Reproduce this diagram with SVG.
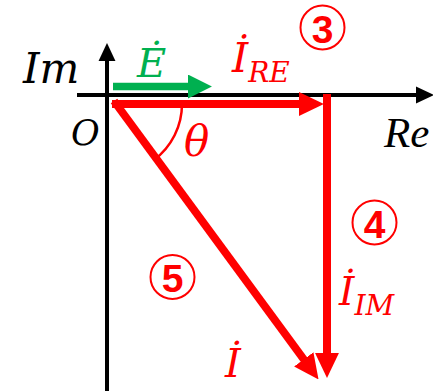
<svg xmlns="http://www.w3.org/2000/svg" width="433" height="391" viewBox="0 0 433 391">
<style>
.axis{stroke:#000;stroke-width:4;fill:none}
.red{stroke:#FF0000;stroke-width:8;fill:none}
.grn{stroke:#00B050;stroke-width:7.5;fill:none}
.m{font-family:"DejaVu Serif","Liberation Serif",serif;font-style:italic}
.ring{fill:none;stroke:#FF0000;stroke-width:2}
.dig{font-family:"Liberation Sans","Arial",sans-serif;font-weight:bold;font-size:39px;fill:#FF0000;text-anchor:middle}
</style>
<defs>
<marker id="ahK" markerUnits="userSpaceOnUse" markerWidth="18" markerHeight="18" viewBox="0 0 17 16" refX="1" refY="8" orient="auto"><path d="M0,0L17,8L0,16z" fill="#000"/></marker>
<marker id="ahR" markerUnits="userSpaceOnUse" markerWidth="25" markerHeight="25" viewBox="0 0 24 23" refX="2" refY="11.5" orient="auto"><path d="M0,0L24,11.5L0,23z" fill="#FF0000"/></marker>
<marker id="ahG" markerUnits="userSpaceOnUse" markerWidth="24" markerHeight="24" viewBox="0 0 23 23" refX="2" refY="11.5" orient="auto"><path d="M0,0L23,11.5L0,23z" fill="#00B050"/></marker>
</defs>
<g id="axes">
<line class="axis" x1="107" y1="391" x2="107" y2="60" marker-end="url(#ahK)"/>
<line class="axis" x1="77" y1="95" x2="417" y2="95" marker-end="url(#ahK)"/>
<text class="m" x="23" y="83" font-size="42" fill="#000">Im</text>
<text class="m" x="71" y="145" font-size="35" fill="#000">O</text>
<text x="384" y="147" font-size="43" fill="#000" font-family="'Liberation Serif',serif" font-style="italic">Re</text>
</g>
<g id="connectors">
<line id="E" class="grn" x1="113" y1="86.5" x2="190" y2="86.5" marker-end="url(#ahG)"/>
<line id="IRE" class="red" x1="112" y1="104" x2="301" y2="104" marker-end="url(#ahR)"/>
<line id="IIM" class="red" x1="327" y1="94" x2="327" y2="355" marker-end="url(#ahR)"/>
<line id="I" class="red" x1="114" y1="101" x2="305" y2="361" marker-end="url(#ahR)"/>
<path id="arc" d="M182,104 A70,70 0 0 1 154,160" fill="none" stroke="#FF0000" stroke-width="2.5"/>
</g>
<g id="labels">
<text class="m" x="137" y="77" font-size="40" fill="#00B050">Ė</text>
<text class="m" x="184" y="156" font-size="42" fill="#FF0000">θ</text>
<text class="m" x="232" y="72" font-size="41" fill="#FF0000">İ<tspan font-size="28" y="82">RE</tspan></text>
<text class="m" x="339" y="305" font-size="39" fill="#FF0000">İ<tspan font-size="28" y="315">IM</tspan></text>
<text class="m" x="225" y="377" font-size="40" fill="#FF0000">İ</text>
</g>
<g id="n3"><circle class="ring" cx="322.5" cy="27.5" r="22"/><text class="dig" x="322.5" y="43">3</text></g>
<g id="n4"><circle class="ring" cx="374.5" cy="222.5" r="22"/><text class="dig" x="374.5" y="238">4</text></g>
<g id="n5"><circle class="ring" cx="172.5" cy="277" r="22"/><text class="dig" x="172.5" y="292">5</text></g>
</svg>
